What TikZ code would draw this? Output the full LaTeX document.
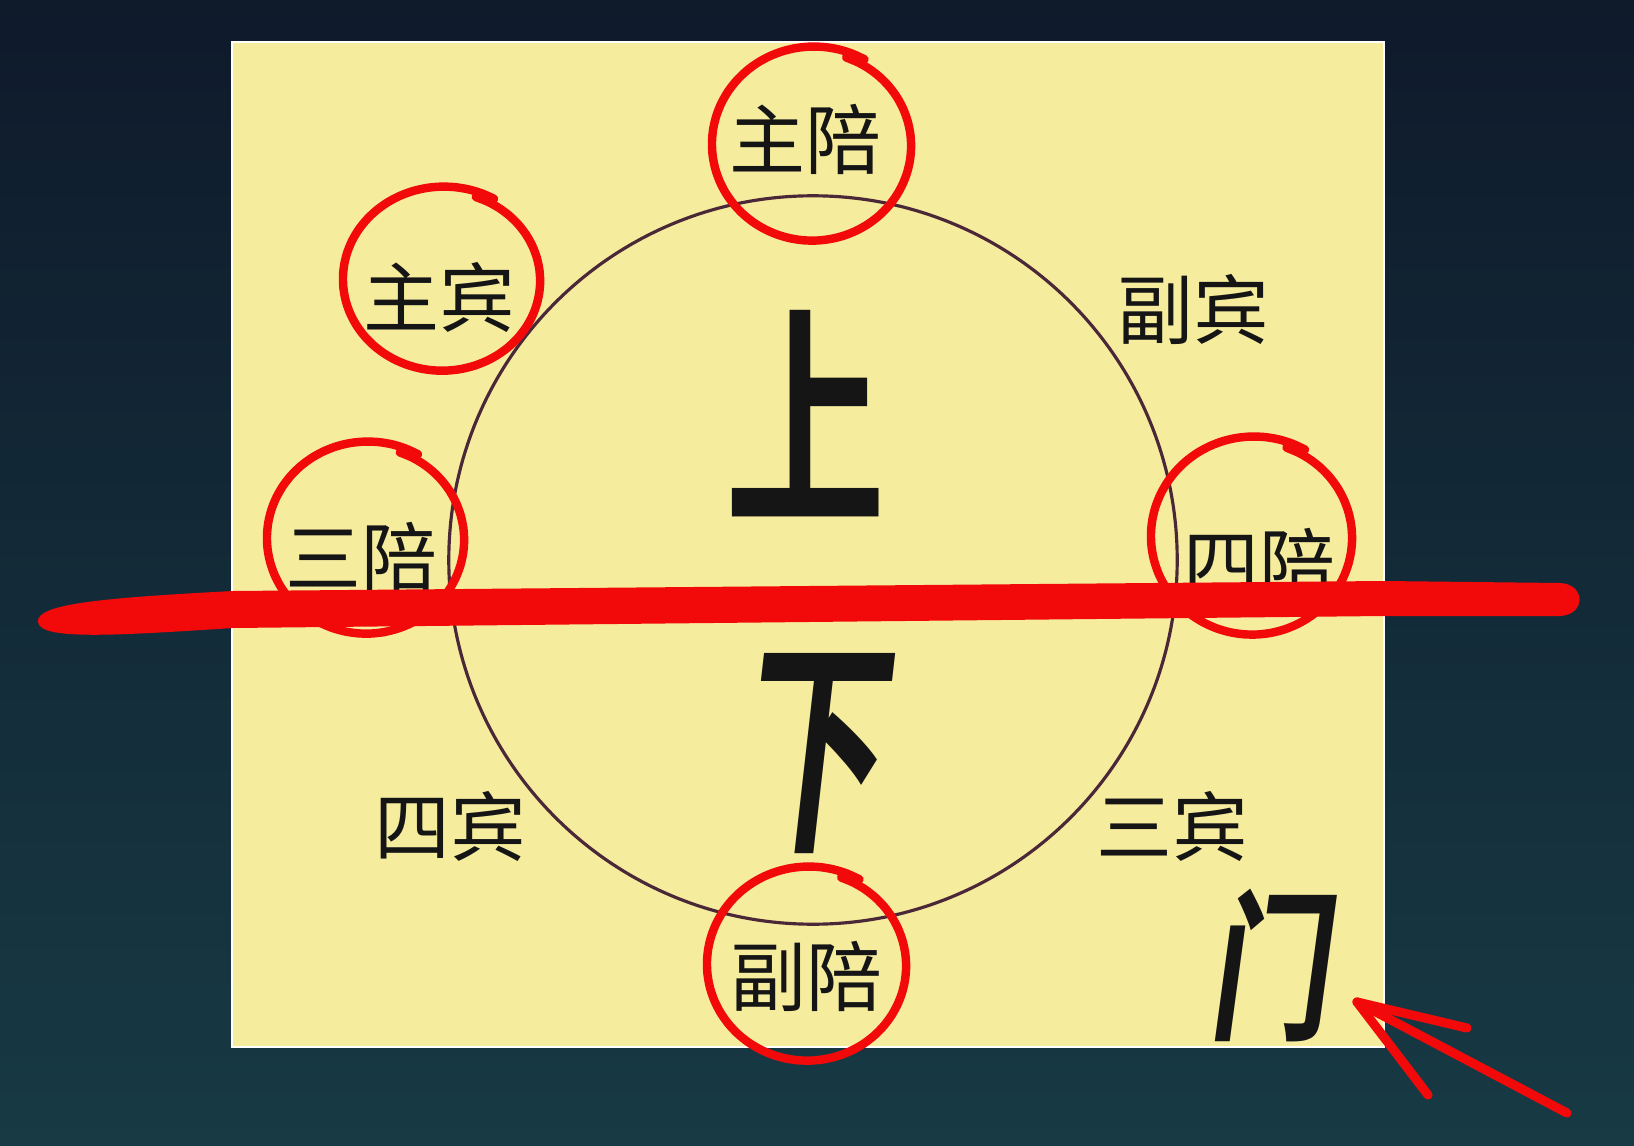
\documentclass[tikz,border=0pt]{standalone}
\usepackage{fontspec}
\usepackage{graphicx}
\newfontfamily\cjk{Noto Sans CJK SC}
\newfontfamily\cjkbf{Noto Sans CJK SC Bold}
\newfontfamily\cjkbfsl[FakeSlant=0.18]{Noto Sans CJK SC Bold}
\usetikzlibrary{calc}
\definecolor{bgtop}{HTML}{0F1A2B}
\definecolor{bgbot}{HTML}{173A44}
\definecolor{paper}{HTML}{F6EC9E}
\definecolor{rim}{HTML}{4A2838}
\definecolor{ink}{HTML}{151515}
\definecolor{pen}{HTML}{F20A0A}
\begin{document}
\begin{tikzpicture}[x=0.01cm,y=-0.01cm,
seat/.style={inner sep=0,text=ink,font=\cjk\fontsize{21.6}{24}\selectfont},
big/.style={inner sep=0,text=ink},
ring/.style={draw=pen,line width=2.4pt,line cap=round,line join=round},
penline/.style={draw=pen,line width=2.6pt,line cap=round}]
\useasboundingbox (0,0) rectangle (1634,1146);
\shade[top color=bgtop,bottom color=bgbot] (0,0) rectangle (1634,1146);
\draw[white,line width=0.6pt,fill=paper] (232,42) rectangle (1384,1047);
\node[draw=rim,line width=0.9pt,circle,minimum size=7.28cm,inner sep=0] (table) at (813,560) {};
\node[seat] (zhupei) at (805,139) {主陪};
\node[seat] (zhubin) at (439,297) {主宾};
\node[seat] (fubin) at (1193,310) {副宾};
\node[seat] (sanpei) at (361,557) {三陪};
\node[seat] (sipei) at (1259,563) {四陪};
\node[seat] (sibin) at (450,826) {四宾};
\node[seat] (sanbin) at (1172,826) {三宾};
\node[seat] (fupei) at (806,976) {副陪};
\node[big,font=\cjkbf\fontsize{67}{70}\selectfont] (shang) at (806,414) {\scalebox{.68}[1]{上}};
\node[big,font=\cjkbfsl\fontsize{66}{70}\selectfont] (xia) at (810,754) {\scalebox{.63}[1]{下}};
\node[big,font=\cjkbfsl\fontsize{46}{50}\selectfont] (men) at (1268,966) {\scalebox{.75}[1]{门}};
\foreach \n/\dx/\dy/\rx/\ry in {zhupei/8/6/101/97,zhubin/4/-17/100/92,sanpei/6/-18/100/96,sipei/-6/-26/102/99,fupei/2/-11/101/97}
  \draw[ring,shift={($(\n)+(\dx,\dy)$)}] plot[smooth,domain=60:430,samples=48]
    ({\rx*(1.02-0.06*(\x-60)/370)*cos(\x)},{-\ry*(1.02-0.06*(\x-60)/370)*sin(\x)});
\fill[pen] (38,622) .. controls (36,604) and (100,598) .. (233,591) -- (1384,581) -- (1560,583)
  .. controls (1586,584) and (1586,615) .. (1560,616) -- (1384,616) -- (233,628)
  .. controls (110,636) and (40,640) .. (38,622) -- cycle;
\coordinate (tip) at (1357,1002);
\coordinate (tail) at (1567,1113);
\coordinate (barbA) at (1467,1028);
\coordinate (barbB) at (1428,1095);
\draw[penline] (tail) -- (tip);
\draw[penline] (tip) -- (barbA);
\draw[penline] (tip) -- (barbB);
\end{tikzpicture}
\end{document}
